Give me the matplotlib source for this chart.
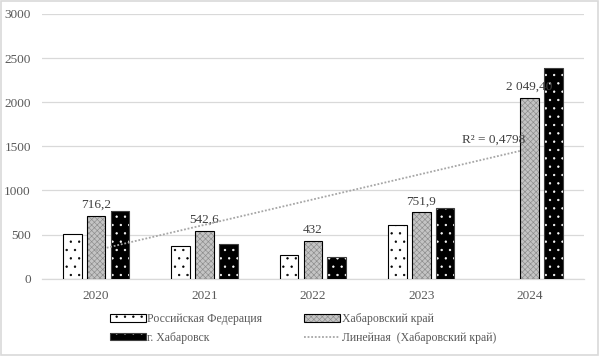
import numpy as np
import matplotlib.pyplot as plt
from matplotlib.patches import Patch
from matplotlib.lines import Line2D
from matplotlib.legend_handler import HandlerTuple

plt.rcParams['font.family'] = ['Liberation Serif', 'DejaVu Serif']
plt.rcParams['hatch.linewidth'] = 0.45

years = ['2020', '2021', '2022', '2023', '2024']
rf = [512, 368, 267, 613, np.nan]
kray = [716.2, 542.6, 432, 751.9, 2049.4]
city = [765, 391, 245, 797, 2390]
kray_labels = ['716,2', '542,6', '432', '751,9', '2 049,40']

TXT = '#595959'
GRID = '#d9d9d9'

fig = plt.figure(figsize=(6, 3.56), dpi=100)
ax = fig.add_axes([0.07, 0.217, 0.903, 0.744])

x = np.arange(len(years))
w = 0.172
off = 0.22

# Российская Федерация: white with black dots
ax.bar(x - off, rf, w, color='white', edgecolor='black', hatch='..', linewidth=0, zorder=3)
ax.bar(x - off, rf, w, color='none', edgecolor='black', linewidth=0.8, zorder=4)
# Хабаровский край: grey fine pattern
ax.bar(x, kray, w, color='#c4c4c4', edgecolor='#8c8c8c', hatch='xxxxxx', linewidth=0, zorder=3)
ax.bar(x, kray, w, color='none', edgecolor='black', linewidth=0.8, zorder=4)
# г. Хабаровск: black with white dots
ax.bar(x + off, city, w, color='black', edgecolor='white', hatch='..', linewidth=0, zorder=3)
ax.bar(x + off, city, w, color='none', edgecolor='#404040', linewidth=0.8, zorder=4)

for xi, v, lab in zip(x, kray, kray_labels):
    ax.text(xi, v + 55, lab, ha='center', va='bottom', fontsize=9.5, color='#404040', zorder=5)

# linear trend for Хабаровский край
k, b = np.polyfit(x + 1, kray, 1)
trend = k * (x + 1) + b
r2 = 1 - np.sum((np.array(kray) - trend) ** 2) / np.sum((np.array(kray) - np.mean(kray)) ** 2)
ax.plot(x, trend, color='#a6a6a6', linestyle=(0, (1, 1)), linewidth=1.3, zorder=5)
ax.text(3.67, trend[-1] + 30, 'R² = ' + f'{r2:.4f}'.replace('.', ','), ha='center', va='bottom',
        fontsize=9.5, color='#404040', zorder=6)

ax.set_xlim(-0.5, 4.5)
ax.set_ylim(0, 3000)
ax.set_yticks(range(0, 3001, 500))
ax.set_xticks(x)
ax.set_xticklabels(years)
ax.tick_params(length=0, labelsize=9.5, colors=TXT)
ax.tick_params(axis='x', pad=8)
ax.tick_params(axis='y', pad=8)
ax.grid(axis='y', color=GRID, linewidth=0.9, zorder=0)
for s in ['top', 'right', 'left']:
    ax.spines[s].set_visible(False)
ax.spines['bottom'].set_color(GRID)
ax.spines['bottom'].set_linewidth(0.9)

h_rf = (Patch(facecolor='white', edgecolor='black', hatch='..', linewidth=0),
        Patch(facecolor='none', edgecolor='black', linewidth=0.8))
h_kr = (Patch(facecolor='#c4c4c4', edgecolor='#8c8c8c', hatch='xxxxxx', linewidth=0),
        Patch(facecolor='none', edgecolor='black', linewidth=0.8))
h_ct = (Patch(facecolor='black', edgecolor='white', hatch='..', linewidth=0),
        Patch(facecolor='none', edgecolor='#404040', linewidth=0.8))
h_ln = Line2D([], [], color='#a6a6a6', linestyle=(0, (1, 1)), linewidth=1.3)

leg = fig.legend([h_rf, h_ct, h_kr, h_ln],
                 ['Российская Федерация', 'г. Хабаровск', 'Хабаровский край', 'Линейная  (Хабаровский край)'],
                 handler_map={tuple: HandlerTuple(ndivide=1, pad=0)},
                 ncol=2, loc='upper left', bbox_to_anchor=(0.173, 0.137), frameon=False,
                 fontsize=8.5, handlelength=3.05, handleheight=0.55, handletextpad=0.15,
                 columnspacing=3.5, labelspacing=0.55, borderpad=0)
for t in leg.get_texts():
    t.set_color(TXT)

fig.patches.append(plt.Rectangle((0.002, 0.003), 0.995, 0.994, transform=fig.transFigure,
                                 fill=False, edgecolor=GRID, linewidth=1.2))

fig.savefig('out.png', dpi=100)
